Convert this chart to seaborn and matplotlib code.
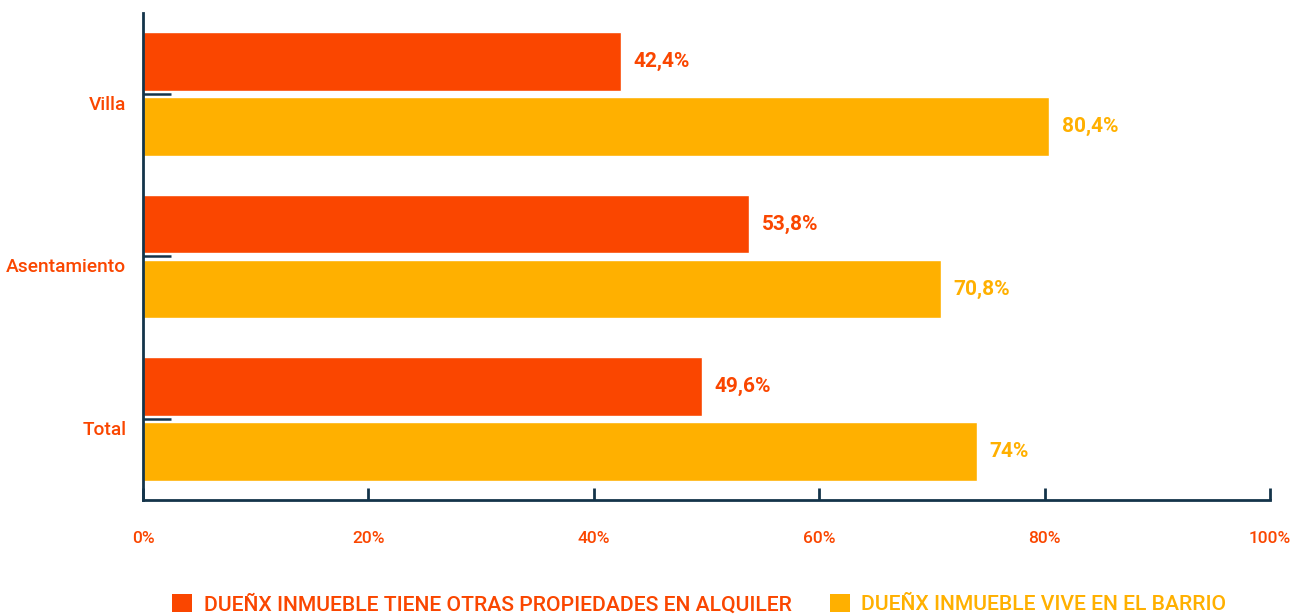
import matplotlib
matplotlib.use("Agg")
import matplotlib.pyplot as plt
import matplotlib.transforms as mtransforms
from matplotlib.patches import Patch
import seaborn as sns
import pandas as pd

categories = ["Villa", "Asentamiento", "Total"]
series_names = ["DUEÑX INMUEBLE TIENE OTRAS PROPIEDADES EN ALQUILER",
                "DUEÑX INMUEBLE VIVE EN EL BARRIO"]
otras_propiedades = [42.4, 53.8, 49.6]
vive_barrio = [80.4, 70.8, 74.0]
value_labels = [["42,4%", "53,8%", "49,6%"], ["80,4%", "70,8%", "74%"]]
x_ticks = [0, 20, 40, 60, 80, 100]
x_tick_labels = ["0%", "20%", "40%", "60%", "80%", "100%"]

colors = ["#FA4600", "#FFB000"]
axis_color = "#14344A"

sns.set_theme(style="white")
plt.rcParams["font.family"] = ["Roboto", "DejaVu Sans"]

df = pd.DataFrame({
    "categoria": categories * 2,
    "serie": [series_names[0]] * 3 + [series_names[1]] * 3,
    "valor": otras_propiedades + vive_barrio,
})

fig = plt.figure(figsize=(13.02, 6.15), dpi=100)
ax = fig.add_axes([143 / 1302, 1 - 500 / 615, (1270 - 143) / 1302, (500 - 13) / 615])

sns.barplot(data=df, y="categoria", x="valor", hue="serie", orient="h",
            palette=colors, saturation=1, width=0.8, gap=0.1, ax=ax,
            legend=False)

ax.set_xlim(0, 100)
ax.set_ylim(2.5, -0.5)
ax.set_xlabel("")
ax.set_ylabel("")
ax.set_xticks(x_ticks)
ax.set_xticklabels(x_tick_labels)

for s in ["top", "right"]:
    ax.spines[s].set_visible(False)
for s in ["left", "bottom"]:
    ax.spines[s].set_color(axis_color)
    ax.spines[s].set_linewidth(2)

ax.tick_params(axis="x", bottom=True, direction="in", length=9, width=2,
               color=axis_color, pad=22, labelsize=12.5, labelcolor=colors[0])
ax.tick_params(axis="y", left=True, direction="in", length=20, width=1.8,
               color=axis_color, pad=12, labelsize=13.8, labelcolor=colors[0])
for t in ax.get_xticklabels() + ax.get_yticklabels():
    t.set_fontweight("medium")

offset = mtransforms.ScaledTranslation(0, -9 / 100, fig.dpi_scale_trans)
for t in ax.get_yticklabels():
    t.set_transform(t.get_transform() + offset)

lab_offset = mtransforms.ScaledTranslation(0, -3 / 100, fig.dpi_scale_trans)
for i, cont in enumerate(ax.containers):
    texts = ax.bar_label(cont, labels=value_labels[i], padding=9, color=colors[i],
                         fontsize=15, fontweight="bold")
    for t in texts:
        t.set_transform(t.get_transform() + lab_offset)

handles = [Patch(facecolor=c, edgecolor="none") for c in colors]
leg = fig.legend(handles, series_names, loc="center", ncol=2,
                 bbox_to_anchor=(0.537, 1 - 604 / 615), frameon=False,
                 fontsize=15.2, handlelength=0.95, handleheight=0.95,
                 handletextpad=0.55, columnspacing=1.8)
for txt, c in zip(leg.get_texts(), colors):
    txt.set_color(c)
    txt.set_fontweight("medium")

fig.savefig("out.png", dpi=100, facecolor="white")
